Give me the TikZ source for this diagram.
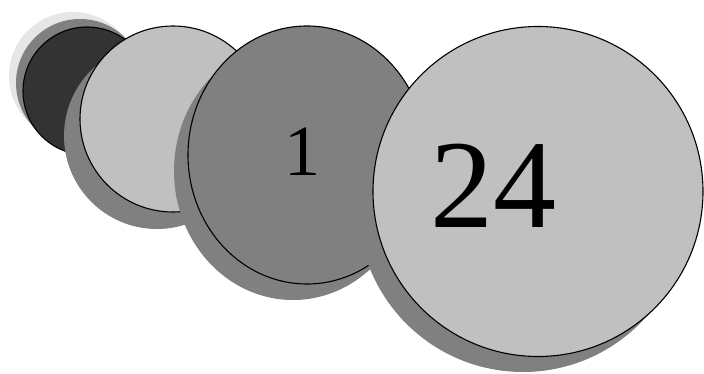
\documentclass[tikz,border=0pt]{standalone}
\usepackage{fontspec}
\setmainfont{Liberation Serif}
\usepackage{xcolor}
\usetikzlibrary{shapes.geometric}
\definecolor{glow}{HTML}{E6E6E6}
\definecolor{ink}{HTML}{333333}
\definecolor{mid}{HTML}{808080}
\definecolor{pale}{HTML}{C0C0C0}

\begin{document}
\begin{tikzpicture}[x=1pt,y=-1pt,
disc/.style={ellipse,draw,line width=1.1pt,inner sep=0pt,minimum size=#1},
drop/.style={fill=mid,draw=none}]
\useasboundingbox (0,0) rectangle (704,374);
% small dark disc
\fill[glow] (73,76) circle (64);
\fill[mid] (80,83) circle (64);
\node[disc=128pt,fill=ink] (d1) at (87,91) {};
% second disc
\fill[drop] (157,136) circle (93);
\node[disc=186pt,fill=pale] (d2) at (173,119) {};
% third disc
\fill[drop] (293,171) ellipse (119 and 129);
\node[disc=238pt,minimum height=258pt,fill=mid] (d3) at (307,155) {};
\node[font=\fontsize{72}{72}\selectfont] (one) at ([xshift=-5pt,yshift=3pt]d3.center) {1};
% big disc
\fill[drop] (523,207) circle (165);
\node[disc=330pt,fill=pale] (d4) at (538,191.5) {};
\node[font=\fontsize{126}{126}\selectfont] (num) at ([xshift=-45pt,yshift=6pt]d4.center) {24};
\end{tikzpicture}
\end{document}
